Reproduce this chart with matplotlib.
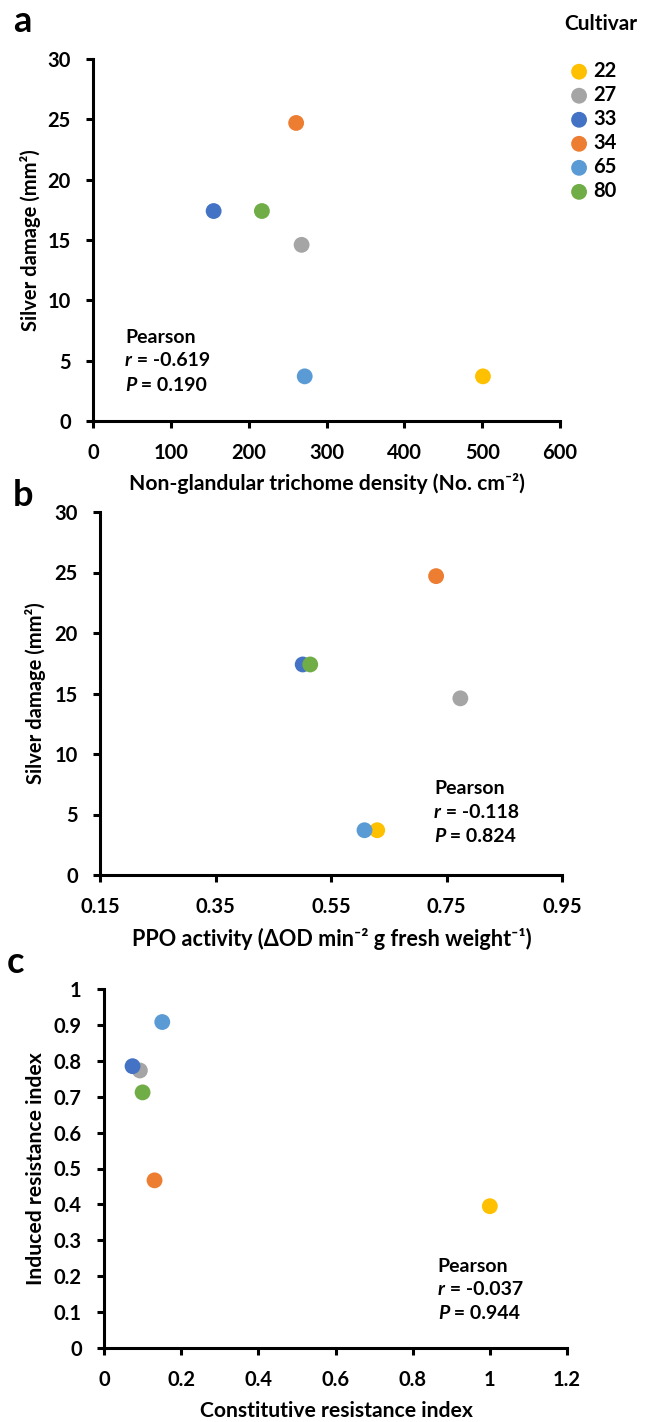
import numpy as np
import matplotlib
matplotlib.use('Agg')
import matplotlib.pyplot as plt
from matplotlib.ticker import FuncFormatter

plt.rcParams['font.family'] = ['Lato', 'DejaVu Sans']
plt.rcParams['font.weight'] = 'bold'

cultivars = ['22', '27', '33', '34', '65', '80']
colors = ['#FFC000', '#A5A5A5', '#4472C4', '#ED7D31', '#5B9BD5', '#70AD47']

# panel a: trichome density vs silver damage
trichome = [501, 268, 155, 261, 272, 217]
damage = [3.7, 14.6, 17.4, 24.7, 3.7, 17.4]
# panel b: PPO activity vs silver damage
ppo = [0.630, 0.774, 0.501, 0.732, 0.608, 0.514]
# panel c: constitutive vs induced resistance
constitutive = [1.0, 0.093, 0.074, 0.131, 0.151, 0.100]
induced = [0.395, 0.773, 0.785, 0.467, 0.908, 0.712]

pearson = [('-0.619', '0.190'), ('-0.118', '0.824'), ('-0.037', '0.944')]

W, H = 646, 1422
fig = plt.figure(figsize=(W / 100, H / 100), dpi=100)

def px_axes(l, r, t, b):
    return fig.add_axes([l / W, (H - b) / H, (r - l) / W, (b - t) / H])

axa = px_axes(93, 560, 59, 421)
axb = px_axes(100, 562, 512, 875)
axc = px_axes(104, 567, 989, 1348)

fmt = FuncFormatter(lambda v, p: '{:g}'.format(round(v, 2)))

def style(ax, xlim, xticks, ylim, yticks):
    ax.set_xlim(*xlim)
    ax.set_ylim(*ylim)
    ax.set_xticks(xticks)
    ax.set_yticks(yticks)
    ax.xaxis.set_major_formatter(fmt)
    ax.yaxis.set_major_formatter(fmt)
    for s in ['top', 'right']:
        ax.spines[s].set_visible(False)
    for s in ['left', 'bottom']:
        ax.spines[s].set_linewidth(2.2)
    ax.tick_params(direction='out', length=5, width=2.2, labelsize=14.5)
    ax.tick_params(axis='x', pad=10.5)
    ax.tick_params(axis='y', pad=11)
    for lab in ax.get_xticklabels() + ax.get_yticklabels():
        lab.set_fontweight('bold')

def add_points(ax, xs, ys):
    hs = []
    for x, y, c, n in zip(xs, ys, colors, cultivars):
        h = ax.scatter(x, y, s=130, color=c, edgecolors='none', label=n,
                       zorder=3, clip_on=False)
        hs.append(h)
    return hs

def add_pearson(ax, x, ys, r, p):
    ax.text(x, ys[0], 'Pearson', transform=ax.transAxes, fontsize=14,
            fontweight='bold', va='center', ha='left')
    t1 = ax.text(x, ys[1], 'r', transform=ax.transAxes, fontsize=14,
                 fontweight='bold', style='italic', va='center', ha='left')
    ax.annotate(' = ' + r, xy=(1, 0), xycoords=t1, fontsize=14,
                fontweight='bold', va='bottom', ha='left')
    t2 = ax.text(x, ys[2], 'P', transform=ax.transAxes, fontsize=14,
                 fontweight='bold', style='italic', va='center', ha='left')
    ax.annotate(' = ' + p, xy=(1, 0), xycoords=t2, fontsize=14,
                fontweight='bold', va='bottom', ha='left')

def labels(ax, xl, yl, xpos, ypos, xs=15.2, ys=14.5):
    ax.set_xlabel(xl, fontsize=xs, fontweight='bold')
    ax.set_ylabel(yl, fontsize=ys, fontweight='bold')
    ax.xaxis.label.set_va('center')
    ax.yaxis.label.set_va('center')
    ax.xaxis.set_label_coords(*xpos)
    ax.yaxis.set_label_coords(*ypos)

# a
style(axa, (0, 600), np.arange(0, 601, 100), (0, 30), np.arange(0, 31, 5))
handles = add_points(axa, trichome, damage)
add_pearson(axa, 0.0685, [0.232, 0.166, 0.0994], *pearson[0])
labels(axa, 'Non-glandular trichome density (No. cm\u207b\u00b2)',
       'Silver damage (mm\u00b2)', (0.501, -0.172), (-0.133, 0.5))

# b
style(axb, (0.15, 0.95), np.arange(0.15, 0.96, 0.2), (0, 30), np.arange(0, 31, 5))
add_points(axb, ppo, damage)
add_pearson(axb, 0.723, [0.237, 0.171, 0.105], *pearson[1])
labels(axb, 'PPO activity (\u0394OD min\u207b\u00b2 g fresh weight\u207b\u00b9)',
       'Silver damage (mm\u00b2)', (0.502, -0.175), (-0.139, 0.5), xs=15.6)

# c
style(axc, (0, 1.2), np.arange(0, 1.21, 0.2), (0, 1), np.arange(0, 1.01, 0.1))
add_points(axc, constitutive, induced)
add_pearson(axc, 0.721, [0.228, 0.162, 0.095], *pearson[2])
labels(axc, 'Constitutive resistance index', 'Induced resistance index',
       (0.503, -0.175), (-0.147, 0.5), ys=15.2)

# panel letters
for letter, (x, y) in zip('abc', [(22, 32), (23, 506), (16, 973)]):
    fig.text(x / W, 1 - y / H, letter, fontsize=26, fontweight='bold',
             ha='center', va='baseline')

# legend
fig.text(564 / W, 1 - 24 / H, 'Cultivar', fontsize=15, fontweight='bold',
         ha='left', va='center')
fig.legend(handles=handles, loc='upper left', bbox_to_anchor=(569 / W, 1 - 61 / H),
           frameon=False, labelspacing=0.2, handletextpad=0.2, markerscale=1.0,
           handlelength=1.0, borderpad=0, borderaxespad=0,
           prop={'weight': 'bold', 'size': 14.5})

fig.savefig('out.png', dpi=100)
